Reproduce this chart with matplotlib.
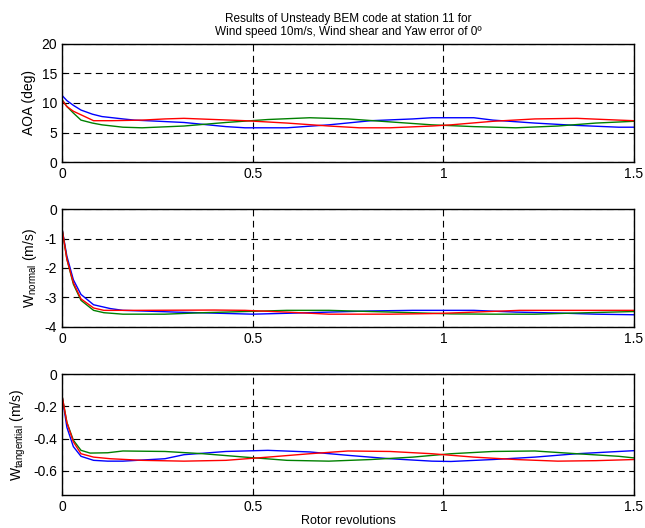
import matplotlib.pyplot as plt

plt.rcParams['font.family'] = ['Liberation Sans', 'DejaVu Sans']
plt.rcParams['mathtext.fontset'] = 'custom'
plt.rcParams['mathtext.rm'] = 'Liberation Sans'
plt.rcParams['mathtext.it'] = 'Liberation Sans'

# AOA (deg)
aoa_blue_x = [0, 0.013, 0.03, 0.05, 0.08, 0.105, 0.16, 0.19, 0.32, 0.43, 0.48, 0.59, 0.70, 0.81, 0.92, 0.97, 1.08, 1.13, 1.24, 1.35, 1.46, 1.5]
aoa_blue_y = [11.3, 10.4, 9.6, 8.8, 8.1, 7.7, 7.3, 7.1, 6.7, 6.0, 5.8, 5.8, 6.3, 7.0, 7.3, 7.5, 7.5, 7.1, 6.6, 6.2, 5.9, 5.9]
aoa_red_x = [0, 0.013, 0.03, 0.05, 0.083, 0.13, 0.21, 0.27, 0.32, 0.40, 0.48, 0.59, 0.70, 0.78, 0.86, 0.97, 1.02, 1.13, 1.24, 1.35, 1.46, 1.5]
aoa_red_y = [10.5, 9.4, 8.6, 8.0, 7.0, 7.0, 7.1, 7.3, 7.4, 7.2, 7.0, 6.6, 6.1, 5.8, 5.8, 6.1, 6.3, 6.9, 7.3, 7.4, 7.1, 7.0]
aoa_green_x = [0, 0.013, 0.03, 0.05, 0.08, 0.105, 0.16, 0.21, 0.32, 0.43, 0.54, 0.65, 0.75, 0.86, 0.97, 1.08, 1.19, 1.30, 1.40, 1.5]
aoa_green_y = [10.6, 9.4, 8.3, 7.1, 6.6, 6.3, 5.9, 5.8, 6.1, 6.7, 7.2, 7.5, 7.3, 6.8, 6.3, 6.0, 5.8, 6.1, 6.6, 6.9]

# W normal (m/s)
wn_blue_x = [0, 0.013, 0.03, 0.05, 0.083, 0.127, 0.16, 0.3, 0.5, 0.59, 0.70, 0.81, 0.92, 1.08, 1.19, 1.30, 1.40, 1.5]
wn_blue_y = [-0.64, -1.6, -2.4, -2.9, -3.25, -3.38, -3.44, -3.5, -3.57, -3.54, -3.5, -3.46, -3.44, -3.44, -3.5, -3.53, -3.57, -3.59]
wn_red_x = [0, 0.013, 0.03, 0.05, 0.083, 0.11, 0.2, 0.4, 0.48, 0.59, 0.70, 0.86, 0.97, 1.02, 1.08, 1.2, 1.35, 1.5]
wn_red_y = [-0.64, -1.7, -2.5, -3.05, -3.36, -3.44, -3.44, -3.43, -3.44, -3.5, -3.57, -3.57, -3.55, -3.53, -3.5, -3.44, -3.44, -3.44]
wn_green_x = [0, 0.013, 0.03, 0.05, 0.083, 0.11, 0.16, 0.27, 0.37, 0.48, 0.59, 0.70, 0.81, 0.92, 1.02, 1.13, 1.24, 1.35, 1.5]
wn_green_y = [-0.64, -1.7, -2.55, -3.1, -3.44, -3.52, -3.57, -3.57, -3.52, -3.48, -3.44, -3.44, -3.48, -3.52, -3.56, -3.57, -3.57, -3.53, -3.48]

# W tangential (m/s)
wt_blue_x = [0, 0.013, 0.03, 0.05, 0.083, 0.12, 0.16, 0.27, 0.32, 0.43, 0.54, 0.65, 0.75, 0.86, 0.97, 1.02, 1.13, 1.24, 1.35, 1.46, 1.5]
wt_blue_y = [-0.13, -0.33, -0.45, -0.51, -0.535, -0.54, -0.54, -0.525, -0.50, -0.48, -0.473, -0.483, -0.504, -0.525, -0.54, -0.542, -0.53, -0.515, -0.494, -0.48, -0.475]
wt_red_x = [0, 0.013, 0.03, 0.05, 0.083, 0.127, 0.21, 0.32, 0.43, 0.54, 0.65, 0.75, 0.86, 0.97, 1.08, 1.19, 1.30, 1.40, 1.5]
wt_red_y = [-0.13, -0.3, -0.42, -0.494, -0.515, -0.525, -0.535, -0.54, -0.535, -0.515, -0.494, -0.477, -0.48, -0.494, -0.515, -0.53, -0.54, -0.537, -0.53]
wt_green_x = [0, 0.013, 0.03, 0.05, 0.074, 0.12, 0.16, 0.27, 0.37, 0.48, 0.59, 0.70, 0.81, 0.92, 1.02, 1.13, 1.24, 1.35, 1.46, 1.5]
wt_green_y = [-0.13, -0.3, -0.41, -0.473, -0.49, -0.488, -0.477, -0.48, -0.494, -0.515, -0.535, -0.54, -0.53, -0.515, -0.494, -0.48, -0.477, -0.494, -0.51, -0.52]

xticks = [0, 0.5, 1, 1.5]
xticklabels = ['0', '0.5', '1', '1.5']

fig = plt.figure(figsize=(6.45, 5.28), dpi=100)

panels = [
    ([0.096, 0.693, 0.887, 0.224], 'AOA (deg)', (0, 20), [0, 5, 10, 15, 20],
     (aoa_blue_x, aoa_blue_y), (aoa_green_x, aoa_green_y), (aoa_red_x, aoa_red_y)),
    ([0.096, 0.381, 0.887, 0.223], r'W$_{\mathrm{normal}}$ (m/s)', (-4, 0), [-4, -3, -2, -1, 0],
     (wn_blue_x, wn_blue_y), (wn_green_x, wn_green_y), (wn_red_x, wn_red_y)),
    ([0.096, 0.0625, 0.887, 0.229], r'W$_{\mathrm{tangential}}$ (m/s)', (-0.75, 0), [-0.6, -0.4, -0.2, 0],
     (wt_blue_x, wt_blue_y), (wt_green_x, wt_green_y), (wt_red_x, wt_red_y)),
]

axes = []
for rect, ylab, ylim, yt, b, g, r in panels:
    ax = fig.add_axes(rect)
    ax.plot(b[0], b[1], color='#0000ff', lw=1)
    ax.plot(g[0], g[1], color='#008000', lw=1)
    ax.plot(r[0], r[1], color='#ff0000', lw=1)
    ax.set_xlim(0, 1.5)
    ax.set_ylim(*ylim)
    ax.set_xticks(xticks)
    ax.set_xticklabels(xticklabels)
    ax.set_yticks(yt)
    ax.set_yticklabels([('%g' % v) for v in yt])
    ax.grid(True, color='black', linestyle=(0, (6, 4)), lw=0.8)
    ax.tick_params(direction='in', length=3, labelsize=10, width=0.8)
    for s in ax.spines.values():
        s.set_linewidth(1)
    ax.set_ylabel(ylab, fontsize=10, labelpad=4)
    axes.append(ax)

axes[0].set_title('Results of Unsteady BEM code at station 11 for\nWind speed 10m/s, Wind shear and Yaw error of 0\u00ba',
                  fontsize=8.5, pad=6)
axes[2].set_xlabel('Rotor revolutions', fontsize=9, labelpad=1)

fig.savefig('out.png', dpi=100)
